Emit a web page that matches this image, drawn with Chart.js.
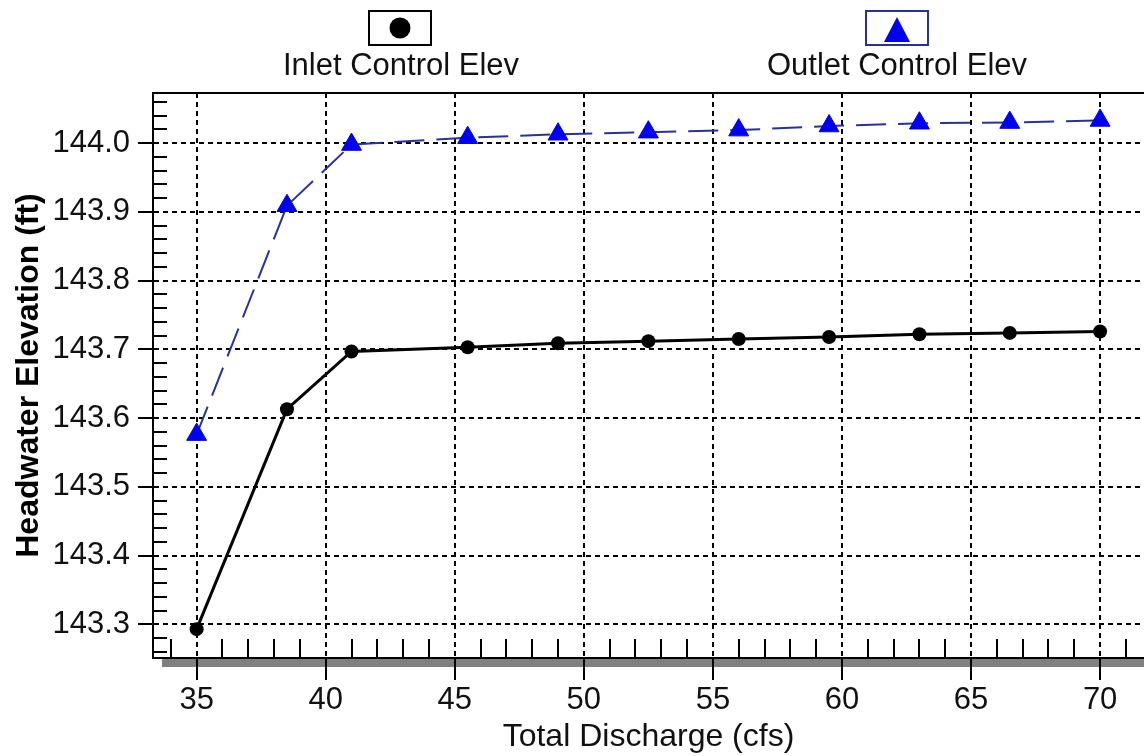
<!DOCTYPE html>
<html>
<head>
<meta charset="utf-8">
<script src="https://cdn.jsdelivr.net/npm/chart.js@4/dist/chart.umd.min.js"></script>
<style>
  html, body { margin: 0; padding: 0; background: #fff; }
  #headwater-chart { display: block; }
</style>
</head>
<body>
<canvas id="headwater-chart" width="1144" height="756"></canvas>
<script>
const discharge = [35, 38.5, 41, 45.5, 49, 52.5, 56, 59.5, 63, 66.5, 70];
const inletElev = [143.293, 143.613, 143.697, 143.703, 143.709, 143.712, 143.715, 143.718, 143.722, 143.724, 143.726];
const outletElev = [143.576, 143.909, 143.998, 144.008, 144.013, 144.016, 144.019, 144.025, 144.029, 144.030, 144.033];
const seriesNames = ["Inlet Control Elev", "Outlet Control Elev"];
const xTicks = [35, 40, 45, 50, 55, 60, 65, 70];
const yTicks = [143.3, 143.4, 143.5, 143.6, 143.7, 143.8, 143.9, 144.0];

const FONT = "'Liberation Sans', Arial, sans-serif";
const INK = "#111";
const LINE_BLUE = "#27329a";
const MARK_BLUE = "#0000ee";

const toPoints = ys => discharge.map((x, i) => ({ x, y: ys[i] }));

// axis decorations: shadow under the x axis, frame top, inward minor ticks
const axisDecor = {
    id: "axisDecor",
    beforeDraw(chart) {
        const { ctx, chartArea } = chart;
        ctx.save();
        ctx.fillStyle = "#fff";
        ctx.fillRect(0, 0, chart.width, chart.height);
        ctx.fillStyle = "#808080";
        ctx.fillRect(chartArea.left + 9, chartArea.bottom, chart.width, 9);
        ctx.restore();
    },
    beforeDatasetsDraw(chart) {
        const { ctx, chartArea, scales } = chart;
        ctx.save();
        ctx.strokeStyle = "#000";
        ctx.lineWidth = 2;
        ctx.beginPath();
        ctx.moveTo(chartArea.left - 1, chartArea.top);
        ctx.lineTo(chart.width, chartArea.top);
        for (let v = 34; v <= 71; v++) {
            if (v % 5 === 0) continue;
            const px = Math.round(scales.x.getPixelForValue(v));
            ctx.moveTo(px, chartArea.bottom);
            ctx.lineTo(px, chartArea.bottom - 19);
        }
        for (let k = 13; k <= 53; k++) {
            if (k % 5 === 0) continue;
            const py = Math.round(scales.y.getPixelForValue(143 + k * 0.02));
            ctx.moveTo(chartArea.left, py);
            ctx.lineTo(chartArea.left + 14, py);
        }
        ctx.stroke();
        ctx.restore();
    },
    afterDraw(chart) {
        const { ctx } = chart;
        ctx.save();
        // boxed legend symbols with captions underneath
        ctx.lineWidth = 2;
        ctx.strokeStyle = "#000";
        ctx.strokeRect(369, 11, 62, 34);
        ctx.fillStyle = "#000";
        ctx.beginPath();
        ctx.arc(400, 28, 10.5, 0, Math.PI * 2);
        ctx.fill();

        ctx.strokeStyle = LINE_BLUE;
        ctx.strokeRect(866, 11, 62, 34);
        ctx.fillStyle = MARK_BLUE;
        ctx.beginPath();
        ctx.moveTo(897, 17);
        ctx.lineTo(910, 42);
        ctx.lineTo(884, 42);
        ctx.closePath();
        ctx.fill();

        ctx.fillStyle = INK;
        ctx.font = `31px ${FONT}`;
        ctx.textAlign = "center";
        ctx.textBaseline = "middle";
        ctx.fillText(seriesNames[0], 401, 66);
        ctx.fillText(seriesNames[1], 897, 66);
        ctx.restore();
    }
};

const ctx = document.getElementById("headwater-chart").getContext("2d");

new Chart(ctx, {
    type: "line",
    data: {
        datasets: [{
            label: seriesNames[0],
            data: toPoints(inletElev),
            borderColor: "#000",
            backgroundColor: "#000",
            borderWidth: 3,
            pointStyle: "circle",
            pointRadius: 7,
            pointBorderWidth: 0,
            fill: false,
            tension: 0,
            order: 1
        }, {
            label: seriesNames[1],
            data: toPoints(outletElev),
            borderColor: LINE_BLUE,
            backgroundColor: MARK_BLUE,
            borderWidth: 2,
            borderDash: [30, 12],
            pointStyle: "triangle",
            pointRadius: 11.5,
            pointBorderColor: MARK_BLUE,
            pointBorderWidth: 1,
            fill: false,
            tension: 0,
            order: 0
        }]
    },
    options: {
        responsive: false,
        animation: false,
        layout: { autoPadding: false, padding: { top: 93, right: 0, bottom: 0, left: 0 } },
        plugins: {
            legend: { display: false },
            tooltip: { enabled: false }
        },
        scales: {
            x: {
                type: "linear",
                min: 33.31,
                max: 71.7,
                afterBuildTicks: scale => { scale.ticks = xTicks.map(value => ({ value })); },
                afterFit: scale => {
                    scale.height = 98;
                    scale.paddingLeft = 0;
                    scale.paddingRight = 0;
                },
                grid: {
                    color: "#000",
                    lineWidth: 2,
                    drawTicks: true,
                    tickLength: 22,
                    tickWidth: 2,
                    tickColor: "#000",
                    tickBorderDash: [40, 0]
                },
                border: { display: true, color: "#000", width: 2, dash: [5, 4] },
                ticks: {
                    color: INK,
                    font: { family: FONT, size: 31 },
                    padding: 2,
                    maxRotation: 0,
                    autoSkip: false,
                    callback: v => String(v)
                },
                title: {
                    display: true,
                    text: "Total Discharge (cfs)",
                    color: INK,
                    font: { family: FONT, size: 32 },
                    padding: 0
                }
            },
            y: {
                type: "linear",
                min: 143.251,
                max: 144.073,
                afterBuildTicks: scale => { scale.ticks = yTicks.map(value => ({ value })); },
                afterFit: scale => {
                    scale.width = 153;
                    scale.paddingTop = 0;
                    scale.paddingBottom = 0;
                },
                grid: {
                    color: "#000",
                    lineWidth: 2,
                    drawTicks: true,
                    tickLength: 15,
                    tickWidth: 2,
                    tickColor: "#000",
                    tickBorderDash: [40, 0]
                },
                border: { display: true, color: "#000", width: 2, dash: [5, 4] },
                ticks: {
                    color: INK,
                    font: { family: FONT, size: 31 },
                    padding: 8,
                    autoSkip: false,
                    callback: v => Number(v).toFixed(1)
                },
                title: {
                    display: true,
                    text: "Headwater Elevation (ft)",
                    color: "#000",
                    font: { family: FONT, size: 32, weight: "bold" },
                    padding: { top: 10, bottom: 0 }
                }
            }
        }
    },
    plugins: [axisDecor]
});
</script>
</body>
</html>
